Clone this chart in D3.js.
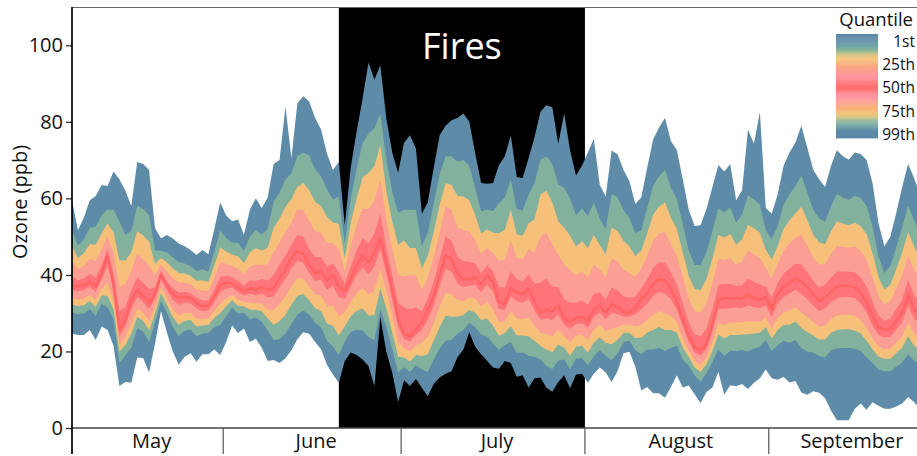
<!DOCTYPE html>
<html>
<head>
<meta charset="utf-8">
<script src="https://cdn.jsdelivr.net/npm/d3@7"></script>
<style>
  html, body { margin: 0; padding: 0; background: #fff; }
  svg { display: block; font-family: "Open Sans", "Noto Sans", sans-serif; }
</style>
</head>
<body>
<svg id="chart" width="917" height="456"></svg>
<script>
// Daily distribution of ozone readings (ppb), one value per day from 6 May 2015.
const firstDay = "2015-05-06T12:00Z";
const xDomain = ["2015-05-06T12:00Z", "2015-09-26T00:00Z"];
const firePeriod = ["2015-06-20T12:00Z", "2015-08-01T00:00Z"];

const q01 = [24.7,24.3,24.3,25.6,23.0,26.5,25.6,21.5,11.0,12.0,
  11.8,18.4,18.3,14.5,22.0,30.5,25.0,20.0,16.5,18.6,
  19.5,17.3,19.3,19.3,20.5,19.1,22.5,26.8,24.8,26.0,
  22.5,23.3,21.0,17.5,17.8,17.0,18.2,20.3,23.2,25.0,
  24.6,22.5,20.6,16.5,14.0,11.8,17.5,19.7,19.1,17.9,
  16.2,11.0,29.0,20.0,14.5,6.8,12.5,11.0,12.8,10.5,
  8.3,11.5,13.2,14.2,14.8,18.5,20.5,25.0,21.2,19.3,
  17.6,15.8,15.5,17.5,17.0,13.4,13.8,10.6,13.0,13.2,
  10.5,9.5,12.0,13.8,10.4,14.0,14.2,11.8,14.2,15.8,
  14.5,12.0,14.8,19.5,19.9,16.0,9.8,10.7,9.1,9.1,
  7.9,10.7,13.8,10.6,11.1,8.8,6.5,9.4,10.6,14.6,
  8.7,11.2,10.9,11.5,10.2,11.8,13.0,15.3,13.0,12.6,
  13.3,11.9,12.3,9.3,8.7,9.6,9.2,7.8,4.6,2.0,
  2.0,2.0,5.0,6.4,4.8,6.7,5.8,5.0,5.0,5.6,
  6.4,8.1,6.8,5.0];

const q10 = [30.1,29.8,29.9,31.0,29.3,32.4,31.5,28.4,17.0,19.0,
  21.0,26.0,25.2,22.4,27.6,33.2,30.2,26.4,24.0,25.4,
  25.7,23.9,24.7,24.8,26.4,26.9,29.2,31.5,29.9,30.1,
  28.5,28.8,27.8,25.5,23.0,23.2,24.7,27.1,29.6,30.7,
  29.6,27.5,26.3,22.7,21.3,19.0,22.6,25.1,25.7,25.5,
  23.8,22.9,31.1,26.4,20.5,14.5,15.9,14.6,16.4,15.3,
  14.6,17.9,20.7,22.8,23.0,24.6,25.6,27.5,26.3,24.4,
  23.9,22.0,20.4,21.7,22.5,19.6,19.7,18.9,18.6,17.9,
  16.2,15.4,17.6,17.9,15.3,18.1,18.3,16.3,18.8,20.3,
  18.9,17.7,19.5,22.5,22.8,20.3,19.3,20.5,20.5,21.0,
  20.1,21.0,21.5,17.8,16.3,13.7,12.1,14.4,17.2,20.6,
  18.8,20.2,20.1,20.4,20.0,20.7,21.2,22.9,20.2,21.6,
  22.7,22.3,23.0,20.9,19.9,19.7,18.8,18.4,20.3,20.8,
  20.9,20.9,20.7,20.1,18.5,17.0,15.3,14.8,14.8,16.0,
  17.1,19.3,17.5,16.6];

const q20 = [32.3,31.9,32.1,33.2,31.6,34.7,34.5,31.1,19.9,21.7,
  24.6,29.0,28.0,25.5,29.8,35.2,32.3,29.0,27.0,28.0,
  28.2,26.5,26.8,26.9,28.8,30.0,31.8,33.4,31.9,31.8,
  30.9,30.9,30.5,28.6,27.0,27.9,29.6,32.2,34.5,35.0,
  33.4,31.3,30.6,27.3,26.7,24.2,26.5,29.2,30.6,31.2,
  29.4,29.5,36.5,31.3,25.0,18.6,18.4,17.4,19.1,18.8,
  19.3,22.8,26.3,29.3,29.1,29.1,29.5,30.8,30.1,28.2,
  28.6,26.7,24.1,24.8,26.6,24.2,24.2,24.0,22.8,21.4,
  20.5,19.8,21.8,21.0,18.9,21.2,21.5,19.7,22.3,23.7,
  22.2,21.9,23.0,24.8,24.9,23.5,23.6,24.9,25.6,26.4,
  25.6,25.7,24.9,21.0,18.6,15.9,14.6,16.7,20.1,24.5,
  23.4,24.3,24.3,24.4,24.5,24.7,24.9,26.3,23.4,25.6,
  26.9,27.0,27.8,26.1,25.0,24.2,23.1,23.1,24.9,25.6,
  25.8,25.8,25.5,24.7,22.8,20.6,18.6,18.1,18.1,19.6,
  21.0,24.0,21.5,20.5];

const q30 = [33.9,33.6,33.8,34.8,33.4,36.5,38.0,33.2,21.8,23.8,
  27.4,31.2,30.1,27.9,31.5,36.8,33.9,30.9,29.3,30.1,
  30.1,28.5,28.4,28.6,30.6,32.4,33.8,34.8,33.5,33.0,
  32.7,32.6,32.5,31.0,30.7,32.4,34.3,37.0,39.1,39.1,
  37.0,34.9,34.7,31.7,31.9,29.2,30.1,33.0,35.2,36.6,
  34.8,35.9,41.6,35.9,29.3,22.5,20.8,20.0,21.7,22.2,
  23.8,27.4,31.7,35.5,34.9,33.5,33.1,34.0,33.8,31.9,
  33.1,31.1,27.6,27.8,30.5,28.6,28.4,28.9,26.8,24.8,
  24.6,24.0,25.8,23.9,22.4,24.1,24.4,23.0,25.7,27.0,
  25.3,26.0,26.3,27.0,27.0,26.6,26.9,28.3,29.6,30.6,
  29.9,29.3,27.6,23.5,20.4,17.6,16.5,18.5,22.4,27.5,
  26.9,27.5,27.5,27.6,27.9,27.8,27.8,28.9,26.0,28.7,
  30.2,30.7,31.5,30.1,28.9,27.7,26.5,26.8,28.5,29.4,
  29.6,29.6,29.3,28.2,26.1,23.4,21.2,20.6,20.7,22.4,
  24.0,27.6,24.7,23.5];

const q42 = [36.0,35.7,36.0,36.9,35.6,38.8,42.5,35.9,24.0,26.6,
  31.1,34.2,32.8,31.0,33.7,38.8,36.0,33.5,32.2,32.7,
  32.5,31.2,30.5,30.7,32.9,35.5,36.4,36.7,35.5,34.6,
  35.1,34.7,35.2,34.1,34.4,36.8,38.9,41.8,43.7,43.2,
  40.5,38.5,38.8,36.1,37.1,34.2,33.8,36.9,39.9,42.0,
  40.2,42.2,46.7,40.5,33.6,26.4,23.2,22.6,24.3,25.6,
  28.3,32.0,37.1,41.6,40.8,37.8,36.8,37.2,37.4,35.5,
  37.5,35.6,31.1,30.8,34.4,33.1,32.7,33.8,30.8,28.2,
  28.7,28.2,29.8,26.9,25.9,27.1,27.4,26.2,29.0,30.2,
  28.5,30.1,29.7,29.1,29.1,29.6,31.0,32.5,34.5,35.6,
  35.1,33.7,30.9,26.5,22.6,19.7,18.9,20.6,25.2,31.1,
  31.2,31.3,31.5,31.3,32.1,31.6,31.2,32.1,29.0,32.5,
  34.2,35.1,36.1,35.0,33.7,32.0,30.6,31.3,32.9,33.9,
  34.2,34.2,33.9,32.5,30.2,26.8,24.3,23.7,23.8,25.8,
  27.6,32.0,28.5,27.1];

const q50 = [37.3,37.0,37.3,38.2,37.0,40.2,45.0,37.5,25.8,28.2,
  33.2,36.0,34.4,32.8,35.0,40.0,37.2,35.0,34.0,34.3,
  34.0,32.7,31.8,32.0,34.3,37.3,38.0,37.8,36.7,35.6,
  36.5,36.0,36.8,36.0,36.5,39.3,41.5,44.5,46.2,45.5,
  42.5,40.5,41.0,38.5,40.0,37.0,35.8,39.0,42.5,45.0,
  43.2,45.7,49.5,43.0,36.0,28.5,24.5,24.0,25.7,27.5,
  30.8,34.5,40.0,45.0,44.0,40.2,38.8,39.0,39.4,37.5,
  40.0,38.0,33.0,32.5,36.5,35.5,35.0,36.5,33.0,30.0,
  31.0,30.5,32.0,28.5,27.8,28.7,29.0,28.0,30.8,32.0,
  30.2,32.3,31.5,30.3,30.2,31.3,33.6,35.2,37.6,38.9,
  38.5,36.5,33.0,28.5,24.0,21.0,20.4,22.0,27.0,33.5,
  34.0,33.8,34.0,33.8,34.8,34.0,33.5,34.2,31.0,35.0,
  36.8,38.0,39.0,38.2,36.8,34.8,33.2,34.2,35.7,36.9,
  37.2,37.2,36.8,35.3,32.8,29.0,26.3,25.7,25.8,28.0,
  30.0,34.8,31.0,29.5];

const q58 = [39.5,38.6,39.1,40.3,39.4,42.5,46.8,40.5,30.5,31.6,
  36.0,39.4,37.9,36.3,36.7,41.0,38.5,36.5,35.4,35.6,
  35.3,34.0,33.3,33.3,36.1,39.5,39.8,39.4,38.5,37.2,
  38.6,38.4,38.9,38.4,40.0,42.7,45.1,47.9,50.4,50.0,
  46.8,44.6,44.7,42.2,43.0,40.6,37.7,42.2,46.4,49.5,
  48.3,50.7,56.0,47.2,40.0,32.7,31.5,31.0,31.5,30.6,
  33.9,38.2,44.0,50.0,49.0,44.7,43.6,43.5,43.0,40.4,
  42.6,40.9,36.9,36.7,41.0,38.8,38.3,40.2,37.7,38.0,
  39.0,37.0,36.8,33.7,32.7,32.8,33.3,32.2,35.1,35.5,
  33.5,36.7,35.9,34.4,34.0,34.3,36.5,38.8,41.8,43.3,
  43.2,40.7,37.4,32.5,27.6,24.5,24.0,25.9,31.0,37.4,
  37.6,37.7,37.2,37.3,39.0,38.2,37.5,37.0,34.0,37.9,
  40.3,41.7,42.9,42.7,40.8,38.4,36.7,37.4,39.3,40.8,
  40.9,40.8,40.7,39.3,36.9,32.9,29.3,28.1,28.5,31.1,
  33.6,38.6,34.8,33.0];

const q70 = [43.5,41.5,42.4,44.2,43.6,46.7,50.1,45.8,36.8,37.7,
  41.0,45.4,44.1,42.5,39.8,42.7,40.9,39.1,38.0,38.0,
  37.5,36.2,35.9,35.8,39.3,43.3,42.9,42.3,41.7,40.2,
  42.2,42.7,42.6,42.8,46.0,48.5,51.3,53.7,57.0,57.0,
  54.1,51.4,51.0,48.5,48.2,46.8,41.0,47.7,53.0,57.3,
  57.2,59.3,65.0,54.4,46.8,40.1,39.5,40.0,39.9,36.1,
  39.3,44.6,51.0,58.0,57.0,52.4,51.8,51.3,49.1,45.5,
  47.1,45.8,43.7,44.1,49.0,44.5,44.1,46.7,45.9,50.0,
  51.0,48.0,45.2,42.8,41.2,39.9,40.9,39.4,42.6,41.5,
  39.3,44.4,43.5,41.4,40.5,39.5,41.6,45.0,48.9,50.8,
  51.3,48.1,44.9,39.5,33.9,30.5,30.2,32.6,37.8,44.1,
  43.9,44.4,42.7,43.5,46.3,45.4,44.5,41.9,39.1,42.8,
  46.3,48.2,49.7,50.4,47.7,44.6,42.7,42.8,45.5,47.6,
  47.3,47.1,47.4,46.2,44.0,39.5,34.5,32.2,33.1,36.5,
  39.9,45.1,41.3,39.0];

const q80 = [47.5,44.4,45.7,48.0,47.9,50.9,53.4,51.1,43.8,43.7,
  46.0,51.4,50.3,48.7,42.9,44.4,43.3,41.7,40.5,40.4,
  39.8,38.5,38.6,38.2,42.4,47.2,46.1,45.3,44.9,43.1,
  45.9,47.0,46.3,47.1,52.3,54.7,57.8,59.8,63.0,64.0,
  62.2,59.1,58.0,55.1,53.7,53.3,44.4,53.5,60.0,65.5,
  66.6,68.4,74.0,62.0,54.0,47.8,49.0,47.0,47.0,41.8,
  44.9,51.3,58.3,64.0,63.5,60.6,60.5,59.5,55.6,50.8,
  51.9,51.0,50.9,51.8,57.0,50.6,50.2,53.5,54.5,61.0,
  62.0,59.0,54.0,52.3,50.2,47.4,48.8,47.0,50.4,47.8,
  45.4,52.4,51.5,48.9,47.4,44.9,46.4,50.9,55.7,57.9,
  58.9,55.0,52.0,46.0,39.8,36.3,36.0,38.9,44.3,50.4,
  49.8,50.7,47.9,49.3,53.1,52.2,51.0,46.6,44.0,47.5,
  52.0,54.3,56.1,57.8,54.3,50.5,48.5,48.0,51.4,54.0,
  53.4,53.0,53.7,52.7,50.7,45.8,39.4,36.2,37.4,41.5,
  45.8,51.2,47.5,44.6];

const q90 = [52.0,47.6,49.3,52.3,52.6,55.6,57.0,57.0,54.0,50.5,
  51.5,58.1,57.2,55.6,46.4,46.3,45.9,44.6,43.4,43.0,
  42.3,41.0,41.5,40.8,46.0,51.6,49.6,48.5,48.4,46.4,
  50.0,51.8,50.5,52.0,59.2,61.4,64.9,66.5,71.0,72.0,
  71.2,67.6,65.8,62.4,59.7,60.4,48.2,59.9,67.7,74.5,
  76.9,78.3,82.1,70.4,61.9,56.2,57.0,57.0,57.0,47.5,
  51.1,58.6,66.3,71.0,71.0,69.6,70.0,68.5,62.7,56.6,
  57.1,56.7,58.7,60.2,65.0,57.2,56.8,61.0,64.0,70.0,
  71.0,69.0,63.7,62.7,60.0,55.6,57.4,55.4,59.0,54.7,
  52.0,61.2,60.3,57.0,54.9,50.9,51.7,57.5,63.3,65.8,
  67.4,62.7,59.9,53.3,46.4,42.6,42.6,45.9,51.5,57.4,
  56.4,57.7,53.7,55.7,60.8,59.8,58.3,51.7,49.4,52.7,
  58.4,61.1,63.2,65.9,61.6,57.0,54.8,53.8,58.0,61.2,
  60.2,59.6,60.7,60.0,58.1,52.8,44.8,40.5,42.3,47.2,
  52.4,58.1,54.3,50.9];

const q99 = [59.5,51.7,55.0,59.5,60.6,63.5,63.2,67.0,65.0,62.0,
  58.0,69.5,69.0,67.4,52.2,49.6,50.4,49.5,48.2,47.5,
  46.5,45.2,46.5,45.4,52.0,58.9,55.5,54.0,54.5,50.5,
  57.0,60.0,57.5,60.2,69.0,70.0,84.0,70.5,84.8,86.7,
  85.3,81.0,78.0,71.7,67.4,69.5,53.0,68.0,77.5,86.0,
  95.5,91.0,94.8,81.0,72.0,66.7,74.5,76.5,73.0,56.0,
  59.0,68.0,76.5,79.0,80.4,81.0,82.2,80.0,71.7,64.0,
  63.8,64.0,68.7,71.0,76.5,65.6,65.3,70.5,76.0,82.6,
  84.3,83.8,74.3,82.2,72.5,66.0,68.5,72.0,75.6,63.5,
  60.5,72.5,71.5,67.4,64.5,58.5,60.2,68.0,75.4,78.5,
  81.0,75.0,72.6,65.0,57.0,52.8,53.0,57.2,63.0,68.7,
  67.0,69.0,59.5,62.1,78.0,74.3,82.5,57.5,56.0,61.0,
  68.5,72.0,74.6,79.0,73.2,67.5,65.0,63.0,68.5,72.6,
  71.0,70.1,72.0,71.6,70.0,64.0,53.5,47.5,50.0,56.2,
  63.0,69.0,65.3,61.0];

// Quantile levels of the series above, lowest to highest
const quantileLevels = [1, 10, 20, 30, 42, 50, 58, 70, 80, 90, 99];
const quantileSeries = [q01, q10, q20, q30, q42, q50, q58, q70, q80, q90, q99];

const months = ["May", "June", "July", "August", "September"];
const yTicks = [0, 20, 40, 60, 80, 100];
const legendTicks = [1, 25, 50, 75, 99];
const legendLabels = ["1st", "25th", "50th", "75th", "99th"];

// ---- layout ----
const W = 917, H = 456;
const plotLeft = 72, plotRight = 917, plotTop = 7, plotBottom = 428;

const svg = d3.select("#chart");
svg.append("rect").attr("width", W).attr("height", H).attr("fill", "#fff");

const parse = d3.isoParse;
const start = parse(firstDay);
const days = q50.map((_, i) => d3.utcDay.offset(start, i));

const x = d3.scaleUtc().domain(xDomain.map(parse)).range([plotLeft, plotRight]);
const y = d3.scaleLinear().domain([0, 110]).range([plotBottom, plotTop]);

// colour by distance (in percentile) from the distribution edge
const colorStops = [
  [1, "#5a85a7"], [8, "#5f8ea8"], [12, "#6fa4a2"], [16, "#88b59b"],
  [20, "#d0c689"], [24, "#f5c47b"], [30, "#f8ab79"], [34, "#faa18c"],
  [39, "#fd99a0"], [44, "#fe8a92"], [46, "#ff7478"], [50, "#ff6b6b"]
];
const edgeColor = d3.scaleLinear()
  .domain(colorStops.map(d => d[0]))
  .range(colorStops.map(d => d[1]))
  .interpolate(d3.interpolateRgb)
  .clamp(true);
const quantileColor = p => edgeColor(Math.min(p, 100 - p));

// ---- fire period ----
const fx0 = x(parse(firePeriod[0])), fx1 = x(parse(firePeriod[1]));
svg.append("rect")
  .attr("x", fx0).attr("y", plotTop)
  .attr("width", fx1 - fx0).attr("height", plotBottom - plotTop)
  .attr("fill", "#000");

svg.append("text")
  .attr("x", (fx0 + fx1) / 2).attr("y", 59)
  .attr("text-anchor", "middle")
  .attr("fill", "#fff")
  .attr("font-size", 36)
  .text("Fires");

// ---- quantile bands (nested from the outside in, so edges never show seams) ----
svg.append("clipPath").attr("id", "plotClip")
  .append("rect").attr("x", plotLeft).attr("y", 0)
  .attr("width", plotRight - plotLeft).attr("height", plotBottom);

const bands = svg.append("g").attr("clip-path", "url(#plotClip)");
const n = quantileLevels.length;
for (let k = 0; k < Math.floor(n / 2); k++) {
  const lo = quantileSeries[k], hi = quantileSeries[n - 1 - k];
  const mid = (quantileLevels[k] + quantileLevels[k + 1]) / 2;
  const area = d3.area()
    .x((d, i) => x(days[i]))
    .y0((d, i) => y(lo[i]))
    .y1((d, i) => y(hi[i]));
  bands.append("path")
    .datum(days)
    .attr("d", area)
    .attr("fill", quantileColor(mid));
}
// median line
bands.append("path")
  .datum(q50)
  .attr("d", d3.line().x((d, i) => x(days[i])).y(d => y(d)))
  .attr("fill", "none")
  .attr("stroke", "#ff6363")
  .attr("stroke-width", 2.4)
  .attr("stroke-linejoin", "round");

// ---- axes ----
svg.append("line")
  .attr("x1", plotLeft).attr("x2", plotRight).attr("y1", plotTop + 0.5).attr("y2", plotTop + 0.5)
  .attr("stroke", "#666").attr("stroke-width", 1);

svg.append("line")
  .attr("x1", plotLeft).attr("x2", plotRight).attr("y1", plotBottom).attr("y2", plotBottom)
  .attr("stroke", "#444").attr("stroke-width", 1.5);

const yAxis = d3.axisLeft(y).tickValues(yTicks).tickSize(6).tickSizeOuter(0).tickPadding(3);
const yg = svg.append("g").attr("transform", `translate(${plotLeft},0)`).call(yAxis);
yg.select(".domain").remove();
yg.selectAll(".tick line").attr("stroke", "#222").attr("stroke-width", 1.2);
yg.selectAll(".tick text").attr("fill", "#111").attr("font-size", 20)
  .attr("font-family", "'Open Sans', 'Noto Sans', sans-serif");

svg.append("line")
  .attr("x1", plotLeft).attr("x2", plotLeft).attr("y1", plotTop).attr("y2", 454)
  .attr("stroke", "#000").attr("stroke-width", 1.7);

svg.append("text")
  .attr("transform", "translate(27,202) rotate(-90)")
  .attr("text-anchor", "middle")
  .attr("fill", "#111")
  .attr("font-size", 20)
  .text("Ozone (ppb)");

// month separators and labels
const d0 = x.domain()[0], d1 = x.domain()[1];
const monthStarts = d3.utcMonth.range(d3.utcMonth.floor(d0), d1);
monthStarts.forEach((m, i) => {
  if (m > d0) {
    svg.append("line")
      .attr("x1", x(m)).attr("x2", x(m)).attr("y1", plotBottom).attr("y2", 454)
      .attr("stroke", "#555").attr("stroke-width", 1.2);
  }
  const a = m < d0 ? d0 : m;
  const next = d3.utcMonth.offset(m, 1);
  const b = next > d1 ? d1 : next;
  svg.append("text")
    .attr("x", (x(a) + x(b)) / 2 + (next > d1 ? 9 : 4))
    .attr("y", 448)
    .attr("text-anchor", "middle")
    .attr("fill", "#111")
    .attr("font-size", 20)
    .text(months[i]);
});

// ---- legend ----
const legendX0 = 836, legendX1 = 878, legendY0 = 34, legendY1 = 138;
const stripes = d3.range(1, 100);
const ly = d3.scaleBand().domain(stripes).range([legendY0, legendY1]);
svg.append("g").selectAll("rect").data(stripes).join("rect")
  .attr("x", legendX0).attr("width", legendX1 - legendX0)
  .attr("y", d => ly(d)).attr("height", ly.bandwidth() + 0.4)
  .attr("fill", d => quantileColor(d));

const labelY = d3.scaleLinear().domain([1, 99]).range([41.5, 134.5]);
svg.append("text")
  .attr("x", 913).attr("y", 25.5)
  .attr("text-anchor", "end")
  .attr("fill", "#111")
  .attr("font-size", 18.5)
  .text("Quantile");
svg.append("g").selectAll("text").data(legendTicks).join("text")
  .attr("x", 915).attr("y", d => labelY(d))
  .attr("dy", "0.35em")
  .attr("text-anchor", "end")
  .attr("fill", "#111")
  .attr("font-size", 15.5)
  .text((d, i) => legendLabels[i]);
</script>
</body>
</html>
